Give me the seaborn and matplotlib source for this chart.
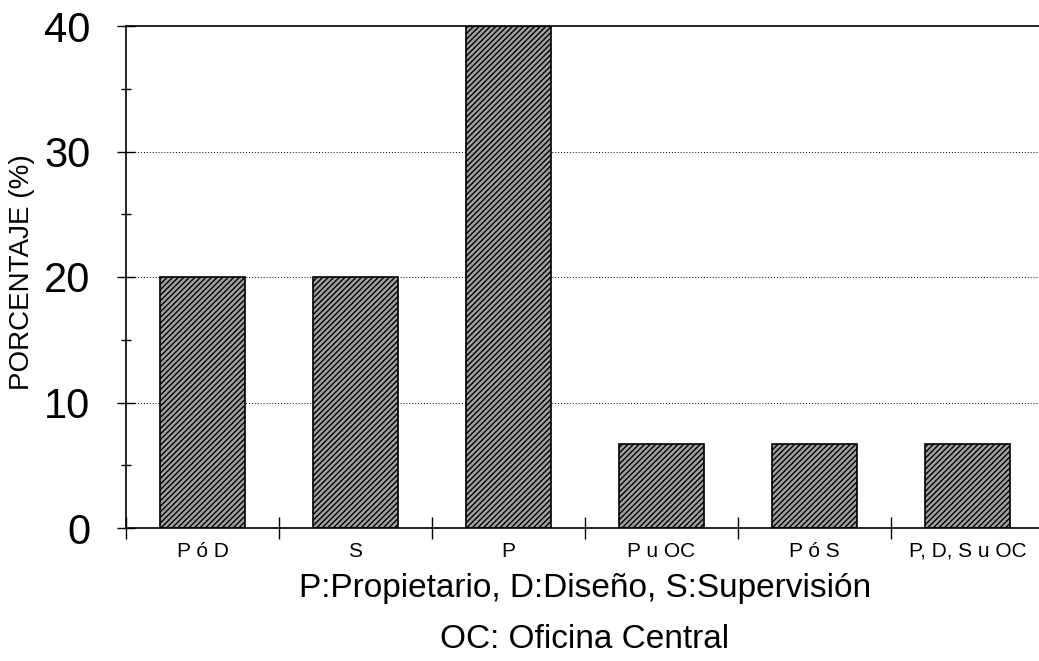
import matplotlib
matplotlib.use("Agg")
import matplotlib.pyplot as plt
import seaborn as sns
import pandas as pd

categories = ["P ó D", "S", "P", "P u OC", "P ó S", "P, D, S u OC"]
values = [20.0, 20.0, 40.0, 6.67, 6.67, 6.67]
y_ticks = [0, 10, 20, 30, 40]
xlabel_line1 = "P:Propietario, D:Diseño, S:Supervisión"
xlabel_line2 = "OC: Oficina Central"
ylabel = "PORCENTAJE (%)"

sns.set_theme(style="white")
plt.rcParams['font.family'] = ['Liberation Sans', 'DejaVu Sans']
plt.rcParams['hatch.linewidth'] = 1.0
for k in ['text.color', 'axes.labelcolor', 'xtick.color', 'ytick.color']:
    plt.rcParams[k] = 'black'

df = pd.DataFrame({"cat": categories, "val": values})

fig = plt.figure(figsize=(10.39, 6.61), dpi=100)
W, H = 1039, 661
ax = fig.add_axes([126 / W, (H - 528) / H, 918 / W, (528 - 26) / H])

sns.barplot(data=df, x="cat", y="val", ax=ax, width=0.56,
            color="#a0a0a0", edgecolor="black", linewidth=1.2, saturation=1)
for p in ax.patches:
    p.set_hatch("//////")
    p.set_edgecolor("black")

ax.set_xlim(-0.5, 5.5)
ax.set_ylim(0, 40)
ax.set_yticks(y_ticks)
ax.set_yticks([5, 15, 25, 35], minor=True)
ax.set_xticks(range(len(categories)))
ax.set_xticklabels(categories, fontsize=15)
ax.set_xticks([i + 0.5 for i in range(-1, len(categories))], minor=True)
ax.tick_params(axis="x", which="major", length=0, pad=10, labelsize=15)
ax.tick_params(axis="x", which="minor", direction="inout", length=16, width=1, color="black", bottom=True)
ax.tick_params(axis="y", which="major", direction="inout", length=13, width=1, color="black",
               labelsize=30, pad=19, left=True)
ax.tick_params(axis="y", which="minor", direction="inout", length=7, width=1, color="black", left=True)

for y in [10, 20, 30]:
    ax.axhline(y, color="black", linestyle=(0, (1, 2)), linewidth=0.7, zorder=0)

ax.set_xlabel("")
ax.set_ylabel("")
for side in ["left", "bottom", "top"]:
    ax.spines[side].set_visible(True)
    ax.spines[side].set_color("black")
    ax.spines[side].set_linewidth(1.2)
ax.spines["right"].set_visible(False)
ax.grid(False)

fig.text(585 / W, (H - 588) / H, xlabel_line1, ha="center", va="center", fontsize=24)
fig.text(585 / W, (H - 640) / H, xlabel_line2, ha="center", va="center", fontsize=24)
fig.text(22 / W, (H - 272) / H, ylabel, ha="center", va="center", rotation=90, fontsize=20)

fig.savefig("out.png", dpi=100)
